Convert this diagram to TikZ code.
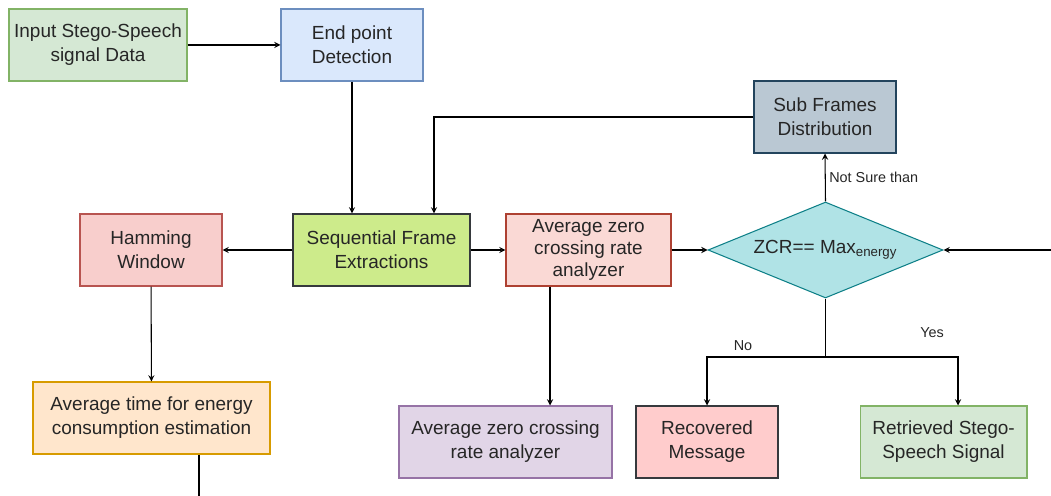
\documentclass[tikz,border=0pt]{standalone}
\usepackage{fontspec}
\setmainfont{Liberation Sans}
\usetikzlibrary{shapes.geometric}

\definecolor{greenFill}{HTML}{D5E8D4}\definecolor{greenLine}{HTML}{82B366}
\definecolor{blueFill}{HTML}{DAE8FC}\definecolor{blueLine}{HTML}{6C8EBF}
\definecolor{slateFill}{HTML}{BAC8D3}\definecolor{slateLine}{HTML}{23445D}
\definecolor{redFill}{HTML}{F8CECC}\definecolor{redLine}{HTML}{B85450}
\definecolor{limeFill}{HTML}{CDEB8B}\definecolor{darkLine}{HTML}{36393D}
\definecolor{roseFill}{HTML}{FAD9D5}\definecolor{roseLine}{HTML}{AE4132}
\definecolor{tealFill}{HTML}{B0E3E6}\definecolor{tealLine}{HTML}{0E8088}
\definecolor{orangeFill}{HTML}{FFE6CC}\definecolor{orangeLine}{HTML}{D79B00}
\definecolor{purpleFill}{HTML}{E1D5E7}\definecolor{purpleLine}{HTML}{9673A6}
\definecolor{pinkFill}{HTML}{FFCCCC}

\tikzset{
    box/.style={draw, align=center, minimum height=1.44cm, inner sep=2pt,
        font=\fontsize{10.8}{13.6}\selectfont, text=black!85},
    decision/.style={diamond, draw=tealLine, fill=tealFill, inner sep=0pt, aspect=2.45,
        minimum width=4.7cm, minimum height=1.92cm,
        font=\fontsize{10.8}{13.6}\selectfont, text=black!85},
    small/.style={font=\fontsize{8.2}{10}\selectfont, text=black!85}
}

\begin{document}
\begin{tikzpicture}[x=0.02cm, y=-0.02cm, line width=0.6pt]
    \useasboundingbox (0,0) rectangle (1051,496);

    % boxes
    \node[box, draw=greenLine, fill=greenFill, minimum width=3.56cm] (input) at (98,45) {Input Stego-Speech\\signal Data};
    \node[box, draw=blueLine, fill=blueFill, minimum width=2.84cm] (endpt) at (352,45) {End point\\Detection};
    \node[box, draw=slateLine, fill=slateFill, minimum width=2.84cm] (subfr) at (825,117) {Sub Frames\\Distribution};
    \node[box, draw=redLine, fill=redFill, minimum width=2.84cm] (hamming) at (151,250) {Hamming\\Window};
    \node[box, draw=darkLine, fill=limeFill, minimum width=3.54cm] (seqfr) at (381.5,250) {Sequential Frame\\Extractions};
    \node[box, draw=roseLine, fill=roseFill, minimum width=3.3cm, font=\fontsize{10.8}{12.6}\selectfont] (zcr) at (588.5,250) {Average zero\\crossing rate\\analyzer};
    \node[decision] (check) at (825.5,250) {ZCR== Max$_{\mathrm{energy}}$};
    \node[box, draw=orangeLine, fill=orangeFill, minimum width=4.74cm] (avgtime) at (151.5,418) {Average time for energy\\consumption estimation};
    \node[box, draw=purpleLine, fill=purpleFill, minimum width=4.26cm] (zcrout) at (505.5,442) {Average zero crossing\\rate analyzer};
    \node[box, draw=darkLine, fill=pinkFill, minimum width=2.84cm] (recmsg) at (707,442) {Recovered\\Message};
    \node[box, draw=greenLine, fill=greenFill, minimum width=3.34cm] (retsig) at (943.5,442) {Retrieved Stego-\\Speech Signal};

    % free ends
    \coordinate (rightIn) at (1051,250);
    \coordinate (tailEnd) at (199,496);
    \coordinate (split) at (825.5,357);

    % connectors
    \draw[-stealth] (input) -- (endpt);
    \draw[-stealth] (endpt.south) -- (endpt.south |- seqfr.north);
    \draw[-stealth] (subfr.west) -| ([xshift=1.05cm]seqfr.north);
    \draw[-stealth] (seqfr) -- (hamming);
    \draw[-stealth] (seqfr) -- (zcr);
    \draw[-stealth] (zcr) -- (check);
    \draw[-stealth] (rightIn) -- (check.east);
    \draw[-stealth] (check.north) -- (subfr.south) node[midway, right, small, inner sep=2pt] {Not Sure than};
    \draw[-stealth] ([xshift=-0.77cm]zcr.south) -- ([xshift=-0.77cm]zcr.south |- zcrout.north);
    \draw[-stealth] (hamming) -- (avgtime);
    \draw (avgtime.south -| tailEnd) -- (tailEnd);
    \draw (check.south) -- (split);
    \draw[-stealth] (split) -| (recmsg.north);
    \draw[-stealth] (split) -| ([xshift=0.29cm]retsig.north);
    \node[small] (noLbl) at (743,346) {No};
    \node[small] (yesLbl) at (932,333) {Yes};
\end{tikzpicture}
\end{document}
